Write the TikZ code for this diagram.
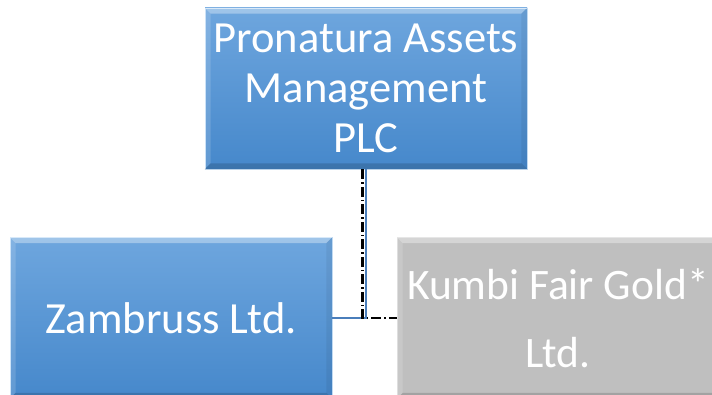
\documentclass[tikz,border=0pt]{standalone}
\usepackage{fontspec}
\setmainfont{Carlito}
\usetikzlibrary{calc}

\definecolor{boxtop}{RGB}{110,166,222}
\definecolor{boxbottom}{RGB}{70,136,203}
\definecolor{boxedge}{RGB}{196,222,246}
\definecolor{greybox}{RGB}{191,191,191}
\definecolor{linkblue}{RGB}{74,126,187}

\tikzset{
  unit/.style={rectangle, minimum width=322pt, minimum height=161pt, inner sep=0pt,
    text=white, align=center, font=\fontsize{44.5}{50}\selectfont},
  owned/.style={unit, top color=boxtop, bottom color=boxbottom, draw=boxedge, line width=0.8pt},
  partner/.style={unit, fill=greybox, draw=greybox!60!white, line width=0.8pt,
    font=\fontsize{43.5}{68}\selectfont},
  solidlink/.style={draw=linkblue, line width=2pt},
  dashlink/.style={draw=black, line width=2.2pt, dash pattern=on 10pt off 3pt on 1.5pt off 3pt},
}

\begin{document}
\begin{tikzpicture}[x=1pt, y=1pt]
    \useasboundingbox (0,0) rectangle (712,395);
    \clip (0,0) rectangle (712,395);

    % companies
    \node[owned]   (pam) at (366,306.5) {Pronatura Assets\\Management\\PLC};
    \node[owned]   (zam) at (171,77)    {Zambruss Ltd.};
    \node[partner] (kum) at (558,77)    {Kumbi Fair Gold*\\Ltd.};

    % bevel edges
    \foreach \n in {pam,zam,kum}{
        \fill[white, opacity=0.35] (\n.north west) -- (\n.north east) -- ($(\n.north east)+(-6,-6)$) -- ($(\n.north west)+(6,-6)$) -- cycle;
        \fill[white, opacity=0.15] (\n.north west) -- ($(\n.north west)+(6,-6)$) -- ($(\n.south west)+(6,6)$) -- (\n.south west) -- cycle;
        \fill[black, opacity=0.06] (\n.north east) -- ($(\n.north east)+(-6,-6)$) -- ($(\n.south east)+(-6,6)$) -- (\n.south east) -- cycle;
        \fill[black, opacity=0.15] (\n.south west) -- ($(\n.south west)+(6,6)$) -- ($(\n.south east)+(-6,6)$) -- (\n.south east) -- cycle;
    }

    % links
    \draw[solidlink] (pam.south) |- (zam.east);
    \draw[dashlink] ([xshift=-3.5pt]pam.south) |- (kum.west);
\end{tikzpicture}
\end{document}
